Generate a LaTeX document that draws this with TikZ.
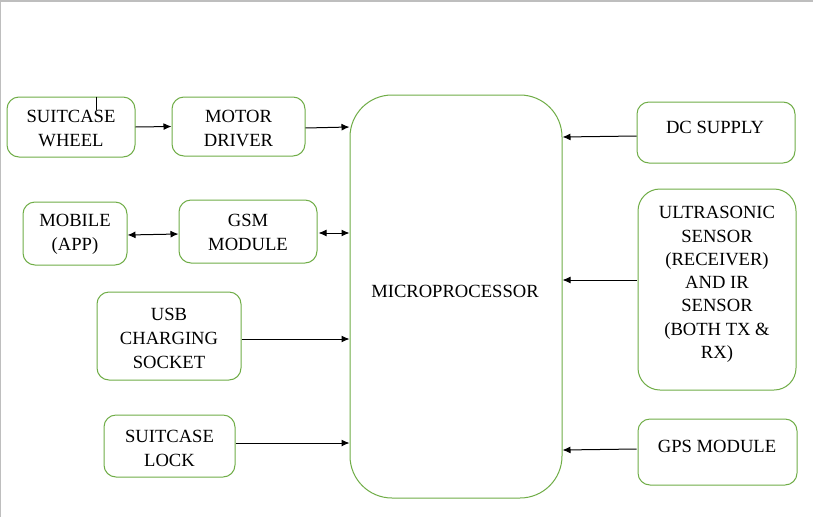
\documentclass[tikz,border=0pt]{standalone}
\usepackage{fontspec}
\setmainfont{Liberation Serif}
\newfontfamily\tnrfont{Liberation Serif}
\usetikzlibrary{arrows.meta,calc}
\definecolor{boxgreen}{RGB}{112,173,71}
\definecolor{frame}{RGB}{190,190,190}
\tikzset{
  box/.style={draw=boxgreen, line width=1pt, rounded corners=12pt, align=center, inner sep=0pt},
  txt/.style={align=center, inner sep=0pt, font=\tnrfont\fontsize{18.6}{24}\selectfont},
  arr/.style={line width=1pt, -{Latex[length=8pt,width=7pt]}},
  darr/.style={line width=1pt, {Latex[length=8pt,width=7pt]}-{Latex[length=8pt,width=7pt]}}
}
\begin{document}
\begin{tikzpicture}[x=1pt,y=-1pt]
\useasboundingbox (0,0) rectangle (813,517);
\fill[white] (0,0) rectangle (813,517);
\draw[frame, line width=1.2pt] (0,517) -- (0,1) -- (813,1);

% left column
\node[box, minimum width=128, minimum height=60] (wheel) at (71,127) {};
\node[txt] (wheeltxt) at (71,128.5) {SUITCASE\\WHEEL};
\node[box, minimum width=133, minimum height=59] (motor) at (238.5,126.5) {};
\node[txt] (motortxt) at (238.5,128.5) {MOTOR\\DRIVER};
\node[box, minimum width=104, minimum height=63] (mobile) at (75,233.5) {};
\node[txt] (mobiletxt) at (75,234.5) {MOBILE\\(APP)};
\node[box, minimum width=138, minimum height=63] (gsm) at (248,231.5) {};
\node[txt] (gsmtxt) at (248,232.5) {GSM\\MODULE};
\node[box, minimum width=144, minimum height=88] (usb) at (169,336) {};
\node[txt] (usbtxt) at (169,338.5) {USB\\CHARGING\\SOCKET};
\node[box, minimum width=131, minimum height=62] (lock) at (169.5,446) {};
\node[txt] (locktxt) at (169.5,448.5) {SUITCASE\\LOCK};

% centre
\node[box, rounded corners=42pt, minimum width=212, minimum height=403] (micro) at (456,296.5) {};
\node[txt] (microtxt) at (455,291) {MICROPROCESSOR};

% right column
\node[box, minimum width=158, minimum height=61] (dc) at (716,132.5) {};
\node[txt] (dctxt) at (715,127) {DC SUPPLY};
\node[box, rounded corners=22pt, minimum width=158, minimum height=201] (ultra) at (717,289.5) {};
\node[txt, font=\tnrfont\fontsize{18.6}{23.3}\selectfont] (ultratxt) at (717,284.5) {ULTRASONIC\\SENSOR\\(RECEIVER)\\AND IR\\SENSOR\\(BOTH TX \&\\RX)};
\node[box, minimum width=159, minimum height=66] (gps) at (717.5,452) {};
\node[txt] (gpstxt) at (717,446) {GPS MODULE};

% stray line in wheel box
\draw[line width=0.8pt] ($(wheel.north west)+(90,0)$) -- ++(0,13);

% connectors
\draw[arr] (wheel.east) -- (motor.west);
\draw[arr] ($(motor.east)+(0,1.5)$) -- ($(micro.west |- motor.east)+(0,0.5)$);
\draw[darr] ($(mobile.east)+(0,1.5)$) -- ($(gsm.west)+(0,2.5)$);
\draw[darr] ($(gsm.east)+(1,1.5)$) -- ($(micro.west |- gsm.east)+(0,1.5)$);
\draw[arr] ($(usb.east)+(0,3)$) -- ($(micro.west |- usb.east)+(0,3)$);
\draw[arr] ($(lock.east)+(0,-3)$) -- ($(micro.west |- lock.east)+(0,-3)$);
\draw[arr] ($(dc.west)+(0,3.5)$) -- ($(micro.east |- dc.west)+(0,4.5)$);
\draw[arr] ($(ultra.west)+(-1,-9.5)$) -- ($(micro.east |- ultra.west)+(0,-9.5)$);
\draw[arr] ($(gps.west)+(-1,-3)$) -- ($(micro.east |- gps.west)+(0,-2)$);
\end{tikzpicture}
\end{document}
